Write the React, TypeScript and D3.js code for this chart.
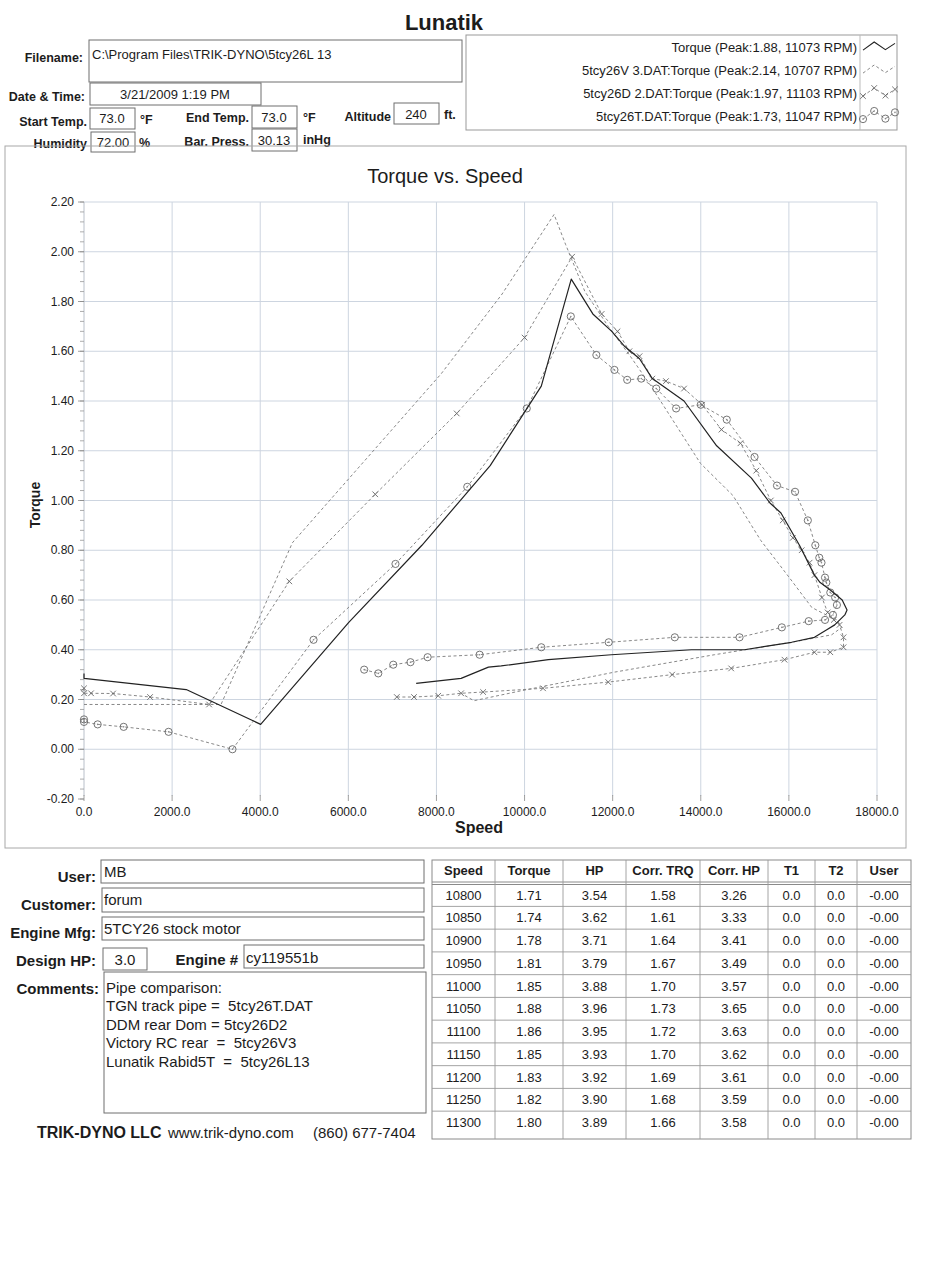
import React from 'react';
import * as d3 from 'd3';

// ---- chart data (rpm, torque) ----
const speedTicks = [0, 2000, 4000, 6000, 8000, 10000, 12000, 14000, 16000, 18000];
const torqueTicks = [-0.2, 0, 0.2, 0.4, 0.6, 0.8, 1.0, 1.2, 1.4, 1.6, 1.8, 2.0, 2.2];

const lunatikTorque: [number, number][] = [
  [0, 0.305], [0, 0.285], [2320, 0.24], [4010, 0.1], [6010, 0.51], [7670, 0.82], [9220, 1.14],
  [9800, 1.3], [10380, 1.46], [11060, 1.89], [11550, 1.75], [11980, 1.68], [12270, 1.62],
  [12610, 1.57], [12900, 1.49], [13620, 1.4], [14360, 1.22], [15150, 1.09], [15570, 0.99],
  [15820, 0.95], [16240, 0.82], [16580, 0.7], [16710, 0.67], [16940, 0.64], [17210, 0.6],
  [17320, 0.56], [17270, 0.54], [17040, 0.5], [16860, 0.48], [16580, 0.45], [16060, 0.43],
  [14990, 0.4], [13790, 0.4], [11970, 0.38], [10540, 0.36], [9470, 0.335], [9180, 0.33],
  [8560, 0.285], [7540, 0.265],
];

const v3Torque: [number, number][] = [
  [0, 0.18], [3110, 0.18], [4730, 0.83], [8110, 1.51], [9490, 1.83], [10670, 2.15],
  [10930, 2.03], [11370, 1.84], [11900, 1.7], [12400, 1.58], [12870, 1.46], [13990, 1.15],
  [14730, 1.02], [15360, 0.84], [16010, 0.69], [16520, 0.57], [16790, 0.545], [17090, 0.52],
  [17200, 0.49], [16970, 0.46], [16060, 0.43], [14310, 0.38], [12040, 0.31], [9920, 0.235],
  [8850, 0.195], [8560, 0.225],
];

const d2Torque: [number, number][] = [
  [0, 0.245], [0, 0.225], [160, 0.225], [660, 0.224], [1500, 0.21], [2840, 0.18], [4660, 0.675],
  [6610, 1.025], [8460, 1.35], [10000, 1.655], [11080, 1.98], [11750, 1.75], [12110, 1.68],
  [12380, 1.6], [12610, 1.58], [12900, 1.49], [13210, 1.48], [13620, 1.45], [14030, 1.385],
  [14470, 1.285], [14900, 1.23], [15260, 1.12], [15590, 1.0], [15860, 0.92], [16090, 0.85],
  [16290, 0.8], [16470, 0.75], [16580, 0.7], [16750, 0.61], [16880, 0.55], [17020, 0.52],
  [17150, 0.5], [17240, 0.45], [17240, 0.41], [16940, 0.39], [16580, 0.39], [15900, 0.36],
  [14690, 0.325], [13350, 0.3], [11900, 0.27], [10420, 0.245], [9060, 0.23], [8560, 0.225],
  [8040, 0.215], [7490, 0.21], [7100, 0.21],
];

const tTorque: [number, number][] = [
  [0, 0.12], [0, 0.11], [310, 0.1], [900, 0.09], [1920, 0.07], [3370, 0.0], [5210, 0.44],
  [7070, 0.745], [8700, 1.055], [10050, 1.37], [11050, 1.74], [11630, 1.585], [12040, 1.525],
  [12330, 1.485], [12650, 1.49], [12990, 1.45], [13440, 1.37], [14000, 1.385], [14590, 1.325],
  [15220, 1.175], [15730, 1.06], [16140, 1.035], [16430, 0.92], [16600, 0.82], [16690, 0.77],
  [16740, 0.75], [16820, 0.69], [16850, 0.67], [16940, 0.63], [17050, 0.61], [17090, 0.58],
  [17000, 0.54], [16820, 0.52], [16450, 0.515], [15840, 0.49], [14880, 0.45], [13410, 0.45],
  [11910, 0.43], [10380, 0.41], [8980, 0.38], [7800, 0.37], [7410, 0.35], [7020, 0.34],
  [6680, 0.305], [6360, 0.32],
];

const legendLabels = [
  'Torque (Peak:1.88, 11073 RPM)',
  '5tcy26V 3.DAT:Torque (Peak:2.14, 10707 RPM)',
  '5tcy26D 2.DAT:Torque (Peak:1.97, 11103 RPM)',
  '5tcy26T.DAT:Torque (Peak:1.73, 11047 RPM)',
];

// ---- table data ----
const tableHeaders = ['Speed', 'Torque', 'HP', 'Corr. TRQ', 'Corr. HP', 'T1', 'T2', 'User'];
const tableSpeed = [10800, 10850, 10900, 10950, 11000, 11050, 11100, 11150, 11200, 11250, 11300];
const tableTorque = ['1.71', '1.74', '1.78', '1.81', '1.85', '1.88', '1.86', '1.85', '1.83', '1.82', '1.80'];
const tableHP = ['3.54', '3.62', '3.71', '3.79', '3.88', '3.96', '3.95', '3.93', '3.92', '3.90', '3.89'];
const tableCorrTrq = ['1.58', '1.61', '1.64', '1.67', '1.70', '1.73', '1.72', '1.70', '1.69', '1.68', '1.66'];
const tableCorrHP = ['3.26', '3.33', '3.41', '3.49', '3.57', '3.65', '3.63', '3.62', '3.61', '3.59', '3.58'];
const tableT1 = ['0.0', '0.0', '0.0', '0.0', '0.0', '0.0', '0.0', '0.0', '0.0', '0.0', '0.0'];
const tableT2 = ['0.0', '0.0', '0.0', '0.0', '0.0', '0.0', '0.0', '0.0', '0.0', '0.0', '0.0'];
const tableUser = ['-0.00', '-0.00', '-0.00', '-0.00', '-0.00', '-0.00', '-0.00', '-0.00', '-0.00', '-0.00', '-0.00'];

const commentLines = [
  'Pipe comparison:',
  'TGN track pipe =  5tcy26T.DAT',
  'DDM rear Dom = 5tcy26D2',
  'Victory RC rear  =  5tcy26V3',
  'Lunatik Rabid5T  =  5tcy26L13',
];

const FONT = "'Liberation Sans', Arial, Helvetica, sans-serif";
const INK = '#1c1c1c';
const BOX = '#6f6f6f';
const GRID = '#cdd5e0';
const DASH_COL = '#7a7a7a';

const series = [
  { label: legendLabels[0], data: lunatikTorque, dash: null, marker: null },
  { label: legendLabels[1], data: v3Torque, dash: '3,2.5', marker: null },
  { label: legendLabels[2], data: d2Torque, dash: '3,2.5', marker: 'x' },
  { label: legendLabels[3], data: tTorque, dash: '3,2.5', marker: 'o' },
];

const Marker = ({ kind, x, y }: { kind: string | null; x: number; y: number }) => {
  if (kind === 'x') {
    return <path d={`M${x - 2.8},${y - 2.8}L${x + 2.8},${y + 2.8}M${x - 2.8},${y + 2.8}L${x + 2.8},${y - 2.8}`} stroke="#666" strokeWidth={0.9} fill="none" />;
  }
  if (kind === 'o') {
    return (
      <g>
        <circle cx={x} cy={y} r={3.6} stroke="#666" strokeWidth={0.9} fill="none" />
        <circle cx={x} cy={y} r={0.8} fill="#888" />
      </g>
    );
  }
  return null;
};

const Box = ({ x, y, w, h }: { x: number; y: number; w: number; h: number }) => (
  <rect x={x} y={y} width={w} height={h} fill="#fff" stroke={BOX} strokeWidth={1} />
);

const App = () => {
  const x = d3.scaleLinear().domain([0, 18000]).range([84, 877]);
  const y = d3.scaleLinear().domain([-0.2, 2.2]).range([799, 202]);
  const line = d3.line<[number, number]>().x(d => x(d[0])).y(d => y(d[1]));
  const minorTicks = d3.range(-0.2, 2.2001, 0.04);

  const swatchShape: [number, number][] = [[0, 0.9], [0.35, 0], [0.7, 0.85], [1, 0.15]];
  const swX = d3.scaleLinear().domain([0, 1]).range([863, 895]);

  const colEdges = [432, 495, 563, 626, 700, 768, 815, 857, 911];
  const tableCols = [tableSpeed.map(String), tableTorque, tableHP, tableCorrTrq, tableCorrHP, tableT1, tableT2, tableUser];
  const rowY = (i: number) => 895 + i * 22.75;

  return (
    <svg width={930} height={1280} style={{ position: 'absolute', left: 0, top: 0, background: '#fff' }} fontFamily={FONT}>
      <rect x={0} y={0} width={930} height={1280} fill="#fff" />

      {/* header */}
      <text x={444} y={30} textAnchor="middle" fontSize={22} fontWeight="bold" fill={INK}>Lunatik</text>

      <text x={83} y={62} textAnchor="end" fontSize={12.5} fontWeight="bold" fill={INK}>Filename:</text>
      <Box x={89} y={40} w={373} h={42} />
      <text x={92} y={59} fontSize={13} fill={INK}>{'C:\\Program Files\\TRIK-DYNO\\5tcy26L 13'}</text>

      <text x={85} y={101} textAnchor="end" fontSize={12.5} fontWeight="bold" fill={INK}>{'Date & Time:'}</text>
      <Box x={90} y={83} w={171} h={22} />
      <text x={175} y={99} textAnchor="middle" fontSize={13} fill={INK}>3/21/2009 1:19 PM</text>

      <text x={87} y={126} textAnchor="end" fontSize={12.5} fontWeight="bold" fill={INK}>Start Temp.</text>
      <Box x={90} y={108} w={45} h={21} />
      <text x={112} y={123} textAnchor="middle" fontSize={13} fill={INK}>73.0</text>
      <text x={140} y={124} fontSize={12.5} fontWeight="bold" fill={INK}>°F</text>

      <text x={249} y={122} textAnchor="end" fontSize={12.5} fontWeight="bold" fill={INK}>End Temp.</text>
      <Box x={252} y={106} w={45} h={22} />
      <text x={274} y={122} textAnchor="middle" fontSize={13} fill={INK}>73.0</text>
      <text x={303} y={122} fontSize={12.5} fontWeight="bold" fill={INK}>°F</text>

      <text x={391} y={121} textAnchor="end" fontSize={12.5} fontWeight="bold" fill={INK}>Altitude</text>
      <Box x={394} y={103} w={45} h={21} />
      <text x={416} y={119} textAnchor="middle" fontSize={13} fill={INK}>240</text>
      <text x={444} y={119} fontSize={12.5} fontWeight="bold" fill={INK}>ft.</text>

      <text x={87} y={148} textAnchor="end" fontSize={12.5} fontWeight="bold" fill={INK}>Humidity</text>
      <Box x={91} y={132} w={44} h={20} />
      <text x={113} y={147} textAnchor="middle" fontSize={13} fill={INK}>72.00</text>
      <text x={139} y={147} fontSize={12.5} fontWeight="bold" fill={INK}>%</text>

      <text x={249} y={146} textAnchor="end" fontSize={12.5} fontWeight="bold" fill={INK}>Bar. Press.</text>
      <Box x={252} y={129} w={45} h={22} />
      <text x={274} y={145} textAnchor="middle" fontSize={13} fill={INK}>30.13</text>
      <text x={303} y={144} fontSize={12.5} fontWeight="bold" fill={INK}>inHg</text>

      {/* legend */}
      <rect x={466} y={35} width={431} height={95} fill="#fff" stroke="#999" />
      <line x1={860} x2={860} y1={35} y2={130} stroke="#bbb" />
      {series.map((s, i) => {
        const cy = 47 + i * 23;
        const pts = swatchShape.map(p => [swX(p[0]), cy - 5 + p[1] * 9] as [number, number]);
        return (
          <g key={s.label}>
            <text x={857} y={cy + 4.5} textAnchor="end" fontSize={13} fill={INK}>{s.label}</text>
            <path d={d3.line()(pts) || ''} fill="none" stroke={s.dash ? DASH_COL : '#222'} strokeWidth={s.dash ? 0.9 : 1.1} strokeDasharray={s.dash || undefined} />
            {s.marker && pts.map((p, j) => <Marker key={j} kind={s.marker} x={p[0]} y={p[1]} />)}
          </g>
        );
      })}

      {/* chart frame */}
      <rect x={5} y={146} width={901} height={702} fill="none" stroke="#a8a8a8" />
      <text x={445} y={183} textAnchor="middle" fontSize={20} fill={INK}>Torque vs. Speed</text>

      {/* grid */}
      {torqueTicks.filter(t => t > -0.1).map(t => (
        <line key={`h${t}`} x1={x(0)} x2={x(18000)} y1={y(t)} y2={y(t)} stroke={GRID} strokeWidth={1} />
      ))}
      {speedTicks.map(t => (
        <line key={`v${t}`} x1={x(t)} x2={x(t)} y1={y(2.2)} y2={y(-0.2) - 3} stroke={t === 0 ? '#b9c0ca' : GRID} strokeWidth={1} />
      ))}
      {minorTicks.map((t, i) => (
        <line key={`m${i}`} x1={x(0) - 4} x2={x(0)} y1={y(t)} y2={y(t)} stroke="#999" strokeWidth={0.8} />
      ))}
      {torqueTicks.map(t => (
        <g key={`yt${t}`}>
          <line x1={x(0) - 6} x2={x(0)} y1={y(t)} y2={y(t)} stroke="#888" strokeWidth={0.8} />
          <text x={74} y={y(t) + 4} textAnchor="end" fontSize={12} fill={INK}>{t.toFixed(2)}</text>
        </g>
      ))}
      {speedTicks.map(t => (
        <g key={`xt${t}`}>
          <line x1={x(t)} x2={x(t)} y1={y(-0.2) - 4} y2={y(-0.2) + 2} stroke="#888" strokeWidth={0.8} />
          <text x={x(t)} y={816} textAnchor="middle" fontSize={12} fill={INK}>{t.toFixed(1)}</text>
        </g>
      ))}
      <text transform="translate(40,505) rotate(-90)" textAnchor="middle" fontSize={14} fontWeight="bold" fill={INK}>Torque</text>
      <text x={479} y={833} textAnchor="middle" fontSize={16} fontWeight="bold" fill={INK}>Speed</text>

      {/* series */}
      {series.slice().reverse().map(s => (
        <g key={`s${s.label}`}>
          <path d={line(s.data) || ''} fill="none" stroke={s.dash ? DASH_COL : '#222'} strokeWidth={s.dash ? 0.9 : 1.2} strokeDasharray={s.dash || undefined} strokeLinejoin="round" />
          {s.marker && s.data.map((d, j) => <Marker key={j} kind={s.marker} x={x(d[0])} y={y(d[1])} />)}
        </g>
      ))}

      {/* lower-left form */}
      <text x={96} y={882} textAnchor="end" fontSize={15} fontWeight="bold" fill={INK}>User:</text>
      <Box x={101} y={860} w={323} h={23} />
      <text x={104} y={877} fontSize={15} fill={INK}>MB</text>

      <text x={96} y={910} textAnchor="end" fontSize={15} fontWeight="bold" fill={INK}>Customer:</text>
      <Box x={102} y={888} w={322} h={24} />
      <text x={104} y={905} fontSize={15} fill={INK}>forum</text>

      <text x={96} y={938} textAnchor="end" fontSize={15} fontWeight="bold" fill={INK}>Engine Mfg:</text>
      <Box x={102} y={917} w={322} h={23} />
      <text x={104} y={934} fontSize={15} fill={INK}>5TCY26 stock motor</text>

      <text x={96} y={966} textAnchor="end" fontSize={15} fontWeight="bold" fill={INK}>Design HP:</text>
      <Box x={103} y={948} w={44} h={22} />
      <text x={125} y={965} textAnchor="middle" fontSize={15} fill={INK}>3.0</text>
      <text x={238} y={965} textAnchor="end" fontSize={15} fontWeight="bold" fill={INK}>Engine #</text>
      <Box x={244} y={945} w={180} h={23} />
      <text x={246} y={963} fontSize={15} fill={INK}>cy119551b</text>

      <text x={99} y={994} textAnchor="end" fontSize={15} fontWeight="bold" fill={INK}>Comments:</text>
      <Box x={104} y={972} w={322} h={141} />
      {commentLines.map((c, i) => (
        <text key={c} x={106} y={993 + i * 18.4} fontSize={15} fill={INK} style={{ whiteSpace: 'pre' }}>{c}</text>
      ))}

      <text x={37} y={1138} fontSize={16} fontWeight="bold" fill={INK}>TRIK-DYNO LLC</text>
      <text x={168} y={1138} fontSize={15} fill={INK}>www.trik-dyno.com</text>
      <text x={313} y={1138} fontSize={15} fill={INK}>(860) 677-7404</text>

      {/* table */}
      <rect x={432} y={860} width={479} height={279} fill="#fff" stroke="#8a8a8a" />
      <line x1={432} x2={911} y1={882} y2={882} stroke="#8a8a8a" />
      <line x1={432} x2={911} y1={884.5} y2={884.5} stroke="#8a8a8a" />
      {tableSpeed.slice(1).map((_, i) => (
        <line key={`r${i}`} x1={432} x2={911} y1={rowY(i) + 11.4} y2={rowY(i) + 11.4} stroke="#9a9a9a" strokeWidth={0.9} />
      ))}
      {colEdges.slice(1, -1).map(cx => (
        <line key={`c${cx}`} x1={cx} x2={cx} y1={860} y2={1139} stroke="#9a9a9a" strokeWidth={0.9} />
      ))}
      {tableHeaders.map((h, ci) => (
        <text key={h} x={(colEdges[ci] + colEdges[ci + 1]) / 2} y={875} textAnchor="middle" fontSize={13} fontWeight="bold" fill={INK}>{h}</text>
      ))}
      {tableCols.map((col, ci) => col.map((v, ri) => (
        <text key={`${ci}-${ri}`} x={(colEdges[ci] + colEdges[ci + 1]) / 2} y={rowY(ri) + 4.5} textAnchor="middle" fontSize={13} fill={INK}>{v}</text>
      )))}
    </svg>
  );
};

export default App;
